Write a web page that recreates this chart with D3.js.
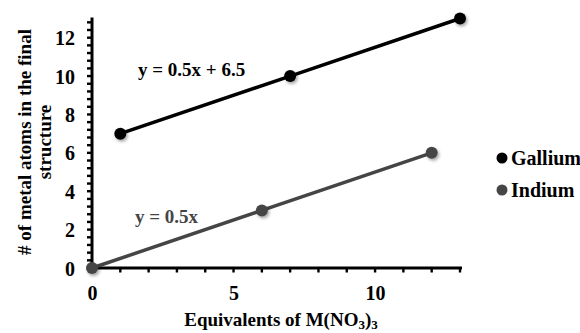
<!DOCTYPE html>
<html><head><meta charset="utf-8">
<script src="https://cdn.jsdelivr.net/npm/d3@7"></script>
<style>
html,body{margin:0;padding:0;background:#fff;}
svg{display:block;}
</style></head>
<body>
<svg id="chart" width="580" height="333"></svg>
<script>
const seriesNames = ["Gallium", "Indium"];
const galliumX = [1, 7, 13];
const galliumY = [7, 10, 13];
const indiumX = [0, 6, 12];
const indiumY = [0, 3, 6];
const equationLabels = ["y = 0.5x + 6.5", "y = 0.5x"];
const xTickValues = [0, 5, 10];
const yTickValues = [0, 2, 4, 6, 8, 10, 12];
const xMinorTicks = [0,1,2,3,4,5,6,7,8,9,10,11,12,13];
const yMinorTicks = [0,0.4,0.8,1.2,1.6,2,2.4,2.8,3.2,3.6,4,4.4,4.8,5.2,5.6,6,6.4,6.8,7.2,7.6,8,8.4,8.8,9.2,9.6,10,10.4,10.8,11.2,11.6,12,12.4,12.8];
const xTitle = "Equivalents of M(NO";
const yTitleLines = ["# of metal atoms in the final", "structure"];
const colors = ["#000000", "#454545"];
const FONT = "'Liberation Serif', 'Times New Roman', serif";

const svg = d3.select("#chart");
const x = d3.scaleLinear().domain([0, 13]).range([92, 460]);
const y = d3.scaleLinear().domain([0, 13]).range([268, 18.5]);

const defs = svg.append("defs");
const f = defs.append("filter").attr("id","sh").attr("x","-50%").attr("y","-50%").attr("width","200%").attr("height","200%");
f.append("feDropShadow").attr("dx",1.5).attr("dy",2).attr("stdDeviation",1.5).attr("flood-color","#000").attr("flood-opacity",0.35);

// minor ticks (drawn from the scales)
svg.append("g").selectAll("rect").data(yMinorTicks).join("rect")
  .attr("x", x(0) - 5).attr("y", d => y(d) - 1.2).attr("width", 5).attr("height", 2.4).attr("fill", "#000");
svg.append("g").selectAll("rect").data(xMinorTicks).join("rect")
  .attr("x", d => x(d) - 1.2).attr("y", y(0)).attr("width", 2.4).attr("height", 4.5).attr("fill", "#000");

// labeled axes
const gy = svg.append("g").attr("transform", `translate(${x(0)},0)`)
  .call(d3.axisLeft(y).tickValues(yTickValues).tickSize(0).tickPadding(17).tickFormat(d3.format("d")));
gy.attr("font-family", FONT);
gy.select(".domain").attr("stroke","#000").attr("stroke-width",3).attr("d", `M0,${y(0)+1.5}V${y(13)-1}`);
gy.selectAll("text").attr("font-family", FONT).attr("font-weight","bold").attr("font-size",20).attr("fill","#000").attr("dy","0.35em");

const gx = svg.append("g").attr("transform", `translate(0,${y(0)})`)
  .call(d3.axisBottom(x).tickValues(xTickValues).tickSize(0).tickPadding(18).tickFormat(d3.format("d")));
gx.attr("font-family", FONT);
gx.select(".domain").attr("stroke","#000").attr("stroke-width",3).attr("d", `M${x(0)-1.5},0H${x(13)+2}`);
gx.selectAll("text").attr("font-family", FONT).attr("font-weight","bold").attr("font-size",20).attr("fill","#000").attr("dy","0.71em");

// series
const series = [
  {name: seriesNames[0], xs: galliumX, ys: galliumY, color: colors[0]},
  {name: seriesNames[1], xs: indiumX, ys: indiumY, color: colors[1]}
];
const line = d3.line().x(d => x(d[0])).y(d => y(d[1]));
series.forEach(s => {
  const pts = s.xs.map((v, i) => [v, s.ys[i]]);
  svg.append("path").datum(pts).attr("d", line).attr("fill","none")
    .attr("stroke", s.color).attr("stroke-width", 3.5);
  svg.append("g").selectAll("circle").data(pts).join("circle")
    .attr("cx", d => x(d[0])).attr("cy", d => y(d[1])).attr("r", 6)
    .attr("fill", s.color).attr("filter","url(#sh)");
});

function txt(sel){ return sel.attr("font-family", FONT).attr("font-weight","bold"); }

// equations
txt(svg.append("text")).attr("x",138).attr("y",76).attr("font-size",19).attr("fill",colors[0]).text(equationLabels[0]);
txt(svg.append("text")).attr("x",135).attr("y",223).attr("font-size",19).attr("fill",colors[1]).text(equationLabels[1]);

// axis titles
const xt = txt(svg.append("text")).attr("x", 281).attr("y", 326).attr("text-anchor","middle").attr("font-size",19).attr("fill","#000");
xt.append("tspan").text(xTitle);
xt.append("tspan").attr("font-size",13).attr("dy",3).text("3");
xt.append("tspan").attr("dy",-3).text(")");
xt.append("tspan").attr("font-size",13).attr("dy",3).text("3");

txt(svg.append("text")).attr("transform","translate(24,142) rotate(-90)").attr("text-anchor","middle")
  .attr("font-size",19).attr("fill","#000").attr("dy","0.35em").text(yTitleLines[0]);
txt(svg.append("text")).attr("transform","translate(44,142) rotate(-90)").attr("text-anchor","middle")
  .attr("font-size",19).attr("fill","#000").attr("dy","0.35em").text(yTitleLines[1]);

// legend
const lg = svg.append("g").selectAll("g").data(series).join("g")
  .attr("transform", (d, i) => `translate(502,${158 + i * 32})`);
lg.append("circle").attr("r", 5.5).attr("fill", d => d.color);
txt(lg.append("text")).attr("x", 9).attr("dy","0.35em").attr("font-size",20).attr("fill","#000").text(d => d.name);
</script>
</body></html>
